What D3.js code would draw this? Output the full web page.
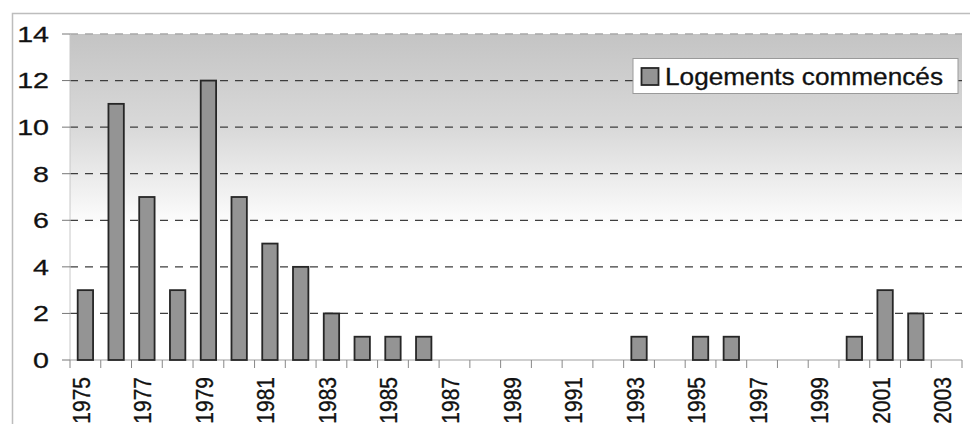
<!DOCTYPE html>
<html>
<head>
<meta charset="utf-8">
<script src="https://cdn.jsdelivr.net/npm/d3@7"></script>
<style>
  html, body { margin: 0; padding: 0; background: #fff; }
  svg { display: block; font-family: "Liberation Sans", Arial, sans-serif; }
</style>
</head>
<body>
<svg id="chart" width="970" height="424"></svg>
<script>
// Housing starts per year
const years = d3.range(1975, 2004).map(String);
const starts = [3, 11, 7, 3, 12, 7, 5, 4, 2, 1, 1, 1, 0, 0, 0, 0, 0, 0, 1, 0, 1, 1, 0, 0, 0, 1, 3, 2, 0];
const yTicks = [0, 2, 4, 6, 8, 10, 12, 14];
const xLabels = years.filter((d, i) => i % 2 === 0);
const seriesName = "Logements commencés";

const svg = d3.select("#chart");
const plot = { left: 70, right: 962, top: 34, bottom: 360 };

const x = d3.scaleBand().domain(years).range([plot.left, plot.right]).paddingInner(0.5).paddingOuter(0.25);
const xBand = d3.scaleBand().domain(years).range([plot.left, plot.right]);
const y = d3.scaleLinear().domain([0, 14]).range([plot.bottom, plot.top]);

// outer chart frame
svg.append("rect")
  .attr("x", 12.5).attr("y", 13.5).attr("width", 970).attr("height", 420)
  .attr("fill", "#fff").attr("stroke", "#bdbdbd").attr("stroke-width", 1.5);

// plot area background: gray fading to white
const defs = svg.append("defs");
const grad = defs.append("linearGradient").attr("id", "bg").attr("x1", 0).attr("y1", 0).attr("x2", 0).attr("y2", 1);
grad.append("stop").attr("offset", 0).attr("stop-color", "#c4c4c4");
grad.append("stop").attr("offset", 0.3).attr("stop-color", "#dadada");
grad.append("stop").attr("offset", 0.6).attr("stop-color", "#ffffff");
grad.append("stop").attr("offset", 1).attr("stop-color", "#ffffff");
svg.append("rect")
  .attr("x", plot.left).attr("y", plot.top)
  .attr("width", plot.right - plot.left).attr("height", plot.bottom - plot.top)
  .attr("fill", "url(#bg)");

// dashed horizontal gridlines
svg.append("g").selectAll("line")
  .data(yTicks.filter(d => d > 0))
  .join("line")
  .attr("x1", plot.left).attr("x2", plot.right)
  .attr("y1", d => y(d)).attr("y2", d => y(d))
  .attr("stroke", d => d === 14 ? "#a8a8a8" : "#3e3e3e")
  .attr("stroke-width", 1.3)
  .attr("stroke-dasharray", "8,7");

// y axis: faint line, short ticks, stretched numerals
const yAxis = svg.append("g");
yAxis.append("line")
  .attr("x1", plot.left).attr("x2", plot.left)
  .attr("y1", plot.top).attr("y2", plot.bottom)
  .attr("stroke", "#c8c8c8").attr("stroke-width", 1);
yAxis.selectAll("line.tick")
  .data(yTicks)
  .join("line").attr("class", "tick")
  .attr("x1", 62).attr("x2", plot.left)
  .attr("y1", d => y(d)).attr("y2", d => y(d))
  .attr("stroke", "#777").attr("stroke-width", 1);
yAxis.selectAll("g.lab")
  .data(yTicks)
  .join("g").attr("class", "lab")
  .attr("transform", d => `translate(49,${y(d)}) scale(1.3,1)`)
  .append("text")
  .attr("text-anchor", "end")
  .attr("dy", "0.36em")
  .attr("font-size", 22)
  .attr("fill", "#111")
  .attr("stroke", "#111").attr("stroke-width", 0.3)
  .text(d => d);

// x axis baseline and category boundary ticks
const xAxis = svg.append("g");
xAxis.append("line")
  .attr("x1", plot.left).attr("x2", plot.right)
  .attr("y1", plot.bottom).attr("y2", plot.bottom)
  .attr("stroke", "#a0a0a0").attr("stroke-width", 1.2);
xAxis.selectAll("line.tick")
  .data(years.concat(["end"]))
  .join("line").attr("class", "tick")
  .attr("x1", d => d === "end" ? plot.right : xBand(d))
  .attr("x2", d => d === "end" ? plot.right : xBand(d))
  .attr("y1", plot.bottom).attr("y2", plot.bottom + 8)
  .attr("stroke", "#888").attr("stroke-width", 1);
xAxis.selectAll("text")
  .data(xLabels)
  .join("text")
  .attr("transform", d => `translate(${xBand(d) + xBand.bandwidth() / 2 + 4.5},377) rotate(-90) scale(1,1.15)`)
  .attr("text-anchor", "end")
  .attr("font-size", 21)
  .attr("fill", "#111")
  .attr("stroke", "#111").attr("stroke-width", 0.3)
  .text(d => d);

// bars
svg.append("g").selectAll("rect")
  .data(years.map((yr, i) => ({ yr, v: starts[i] })).filter(d => d.v > 0))
  .join("rect")
  .attr("x", d => x(d.yr))
  .attr("y", d => y(d.v))
  .attr("width", x.bandwidth())
  .attr("height", d => y(0) - y(d.v))
  .attr("fill", "#949494")
  .attr("stroke", "#262626")
  .attr("stroke-width", 1.8);

// legend
const lg = svg.append("g");
lg.append("rect")
  .attr("x", 633).attr("y", 58.5).attr("width", 325).attr("height", 35)
  .attr("fill", "#fff").attr("stroke", "#9a9a9a").attr("stroke-width", 1);
lg.append("rect")
  .attr("x", 641.5).attr("y", 68).attr("width", 17).attr("height", 17)
  .attr("fill", "#949494").attr("stroke", "#262626").attr("stroke-width", 1.8);
lg.append("text")
  .attr("x", 665).attr("y", 85)
  .attr("font-size", 23)
  .attr("textLength", 278).attr("lengthAdjust", "spacingAndGlyphs")
  .attr("fill", "#111")
  .attr("stroke", "#111").attr("stroke-width", 0.3)
  .text(seriesName);
</script>
</body>
</html>
